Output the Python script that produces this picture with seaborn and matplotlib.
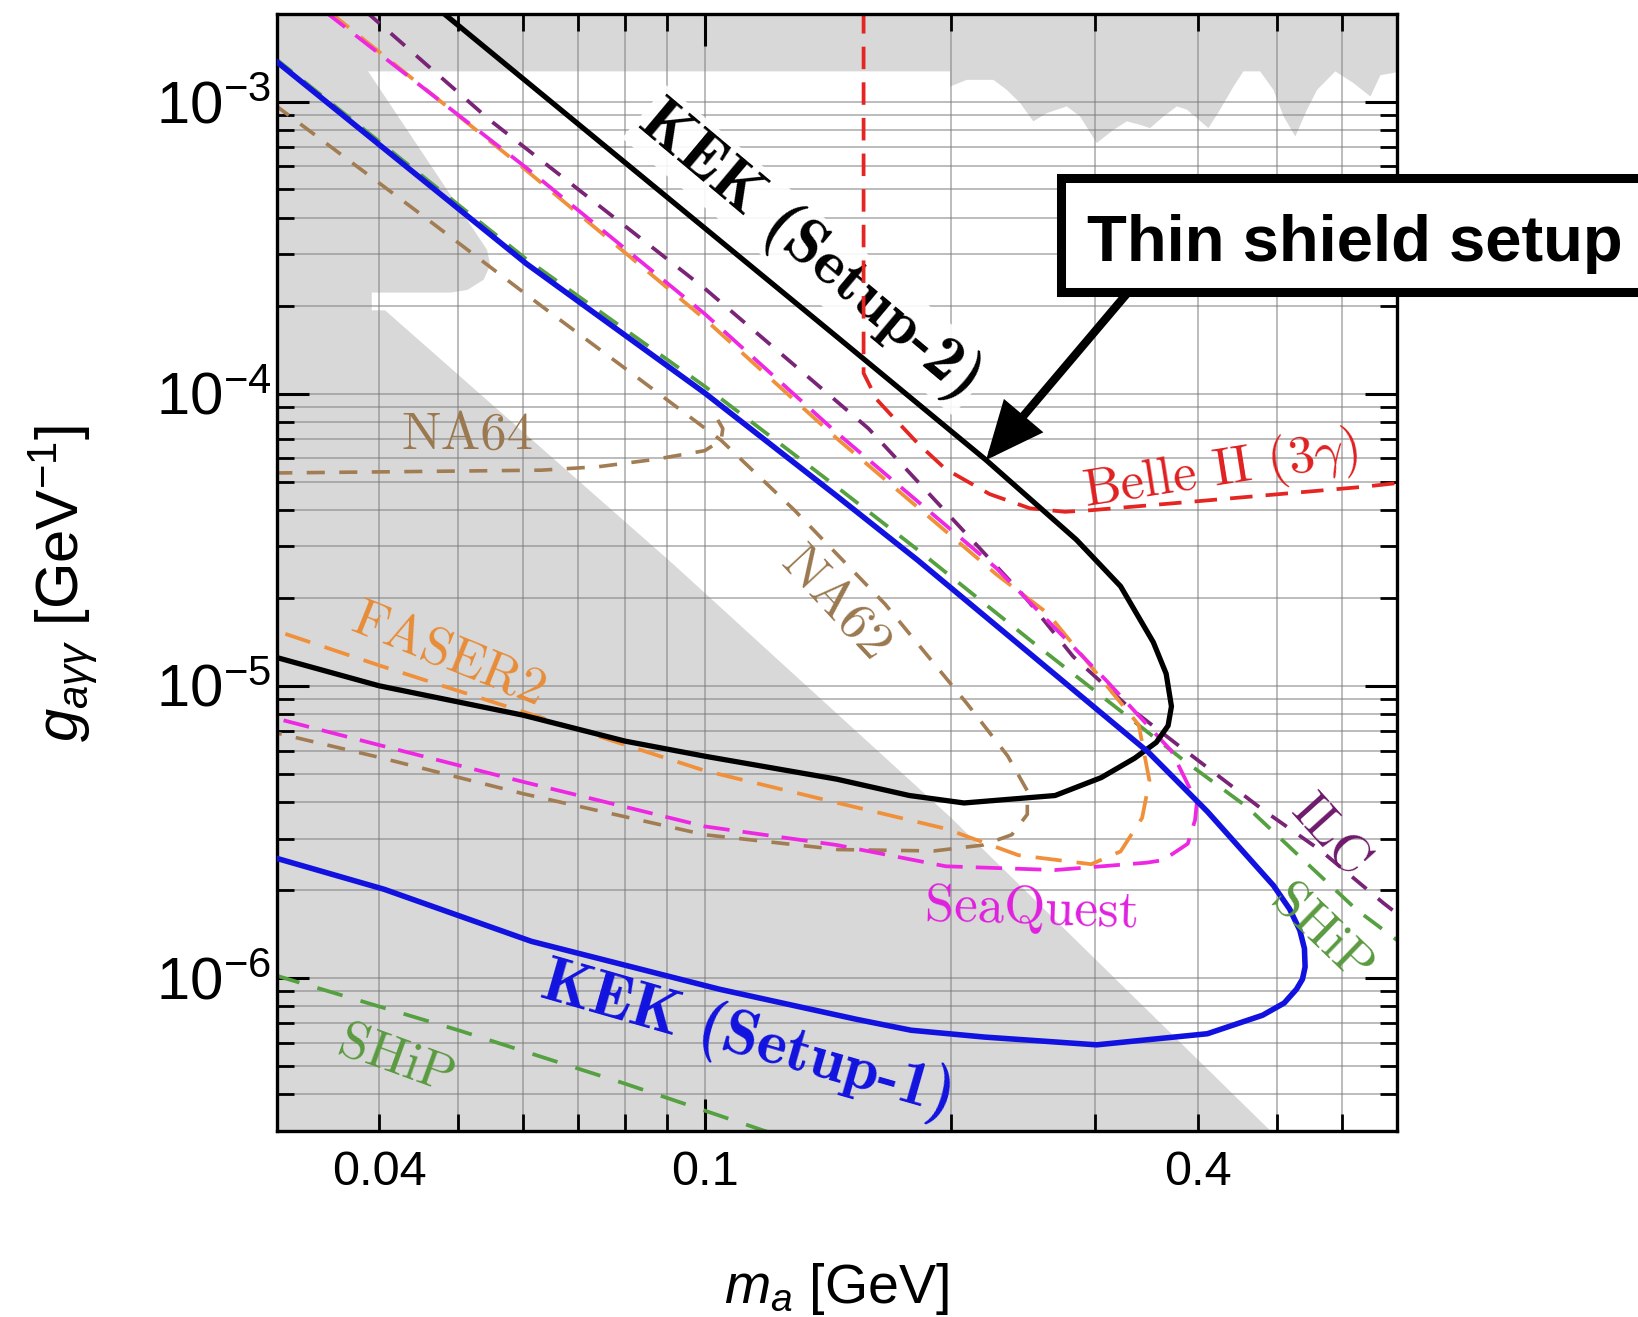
import matplotlib
matplotlib.use("Agg")
import matplotlib.pyplot as plt
import seaborn as sns
import pandas as pd
from matplotlib.ticker import FixedLocator, FuncFormatter, LogLocator, NullFormatter, LogFormatterMathtext
from matplotlib.patches import Rectangle, FancyArrowPatch

# ---------------- data (m_a in GeV, g in GeV^-1) ----------------
kek1_m = [0.0298, 0.0606, 0.100, 0.145, 0.182, 0.348, 0.411, 0.495, 0.518, 0.533, 0.540, 0.541, 0.537,
          0.528, 0.510, 0.480, 0.411, 0.301, 0.220, 0.1786, 0.1534, 0.1043, 0.0614, 0.0406, 0.0298]
kek1_g = [1.39e-3, 2.78e-4, 1.005e-4, 4.46e-5, 2.69e-5, 5.93e-6, 3.71e-6, 2.07e-6, 1.72e-6, 1.456e-6,
          1.26e-6, 1.09e-6, 9.9e-7, 9.14e-7, 8.2e-7, 7.45e-7, 6.44e-7, 5.90e-7, 6.27e-7, 6.62e-7, 7.21e-7,
          9.14e-7, 1.334e-6, 2.01e-6, 2.58e-6]

kek2_m = [0.0476, 0.1452, 0.2205, 0.2844, 0.322, 0.353, 0.366, 0.3715, 0.368, 0.356, 0.335, 0.305,
          0.2678, 0.2073, 0.1778, 0.1449, 0.100, 0.080, 0.060, 0.040, 0.0298]
kek2_g = [2.04e-3, 1.56e-4, 5.93e-5, 3.16e-5, 2.19e-5, 1.41e-5, 1.10e-5, 8.5e-6, 7.3e-6, 6.4e-6, 5.65e-6,
          4.85e-6, 4.21e-6, 3.97e-6, 4.21e-6, 4.79e-6, 5.74e-6, 6.46e-6, 7.93e-6, 1.0e-5, 1.256e-5]

belle_m = [0.1563, 0.1563, 0.1622, 0.169, 0.182, 0.1968, 0.2228, 0.2495, 0.2754, 0.2965, 0.4027, 0.6383, 0.705]
belle_g = [2.04e-3, 1.175e-4, 9.55e-5, 8.43e-5, 6.76e-5, 5.52e-5, 4.53e-5, 4.05e-5, 3.94e-5, 3.99e-5,
           4.29e-5, 4.80e-5, 4.95e-5]

seaquest_m = [0.0343, 0.0605, 0.100, 0.1445, 0.2273, 0.309, 0.3715, 0.399, 0.397, 0.389, 0.363, 0.3467,
              0.2678, 0.197, 0.1449, 0.100, 0.060, 0.040, 0.0298]
seaquest_g = [2.04e-3, 5.94e-4, 1.875e-4, 7.40e-5, 2.52e-5, 1.045e-5, 5.98e-6, 3.98e-6, 3.47e-6, 2.88e-6,
              2.53e-6, 2.48e-6, 2.34e-6, 2.41e-6, 2.85e-6, 3.30e-6, 4.69e-6, 6.27e-6, 7.76e-6]

faser_m = [0.0347, 0.0605, 0.100, 0.1445, 0.2273, 0.2623, 0.3388, 0.3492, 0.3421, 0.322, 0.2965, 0.2416,
           0.197, 0.1449, 0.100, 0.080, 0.060, 0.040, 0.0298]
faser_g = [2.04e-3, 5.82e-4, 1.80e-4, 7.08e-5, 2.40e-5, 1.77e-5, 7.35e-6, 4.73e-6, 3.53e-6, 2.71e-6,
           2.45e-6, 2.63e-6, 3.24e-6, 3.98e-6, 5.12e-6, 6.27e-6, 8.15e-6, 1.175e-5, 1.55e-5]

na62_m = [0.0298, 0.0447, 0.0631, 0.0832, 0.1047, 0.1288, 0.166, 0.2089, 0.2344, 0.2477, 0.2477, 0.2371,
          0.2188, 0.1905, 0.1455, 0.100, 0.060, 0.040, 0.0298]
na62_g = [9.77e-4, 4.17e-4, 2.0e-4, 1.122e-4, 6.92e-5, 3.98e-5, 1.905e-5, 8.71e-6, 5.75e-6, 4.37e-6,
          3.63e-6, 3.09e-6, 2.85e-6, 2.72e-6, 2.75e-6, 3.09e-6, 4.27e-6, 5.69e-6, 6.92e-6]

na64_m = [0.0298, 0.0631, 0.0741, 0.0871, 0.100, 0.1047, 0.1052, 0.1035]
na64_g = [5.35e-5, 5.47e-5, 5.62e-5, 5.96e-5, 6.38e-5, 6.92e-5, 7.59e-5, 8.22e-5]

ship_up_m = [0.0298, 0.0606, 0.100, 0.145, 0.182, 0.2512, 0.3841, 0.4594, 0.5338, 0.626, 0.708]
ship_up_g = [1.413e-3, 2.88e-4, 1.059e-4, 4.79e-5, 2.92e-5, 1.413e-5, 5.57e-6, 3.85e-6, 2.59e-6, 1.706e-6, 1.318e-6]

ship_lo_m = [0.0298, 0.0501, 0.0794, 0.1202]
ship_lo_g = [1.023e-6, 6.61e-7, 4.37e-7, 2.95e-7]

ilc_m = [0.0385, 0.0546, 0.100, 0.1585, 0.2466, 0.2818, 0.3285, 0.3808, 0.4811, 0.5647, 0.6744, 0.708]
ilc_g = [2.04e-3, 8.65e-4, 2.29e-4, 7.59e-5, 2.0e-5, 1.259e-5, 8.51e-6, 6.18e-6, 3.75e-6, 2.735e-6,
         1.803e-6, 1.622e-6]

# allowed (white) region; everything else is excluded (gray)
white_m = [0.0388, 0.1993, 0.1993, 0.2089, 0.2252, 0.2338, 0.2427, 0.2519, 0.2616, 0.2768, 0.2873, 0.3011,
           0.3157, 0.3277, 0.3402, 0.3499, 0.3633, 0.3772, 0.3880, 0.4122, 0.4260, 0.4423, 0.4549, 0.4768,
           0.4949, 0.5093, 0.5263, 0.5439, 0.5595, 0.5890, 0.6200, 0.6501, 0.6686, 0.71, 0.71, 0.4966,
           0.1995, 0.0912, 0.0407, 0.0392, 0.0392, 0.0490, 0.0513, 0.0537, 0.0547, 0.0542]
white_g = [1.268e-3, 1.268e-3, 1.125e-3, 1.186e-3, 1.186e-3, 1.096e-3, 9.89e-4, 8.55e-4, 9.12e-4, 9.62e-4,
           8.89e-4, 7.21e-4, 8.0e-4, 8.55e-4, 8.32e-4, 8.11e-4, 8.89e-4, 9.62e-4, 9.38e-4, 8.11e-4, 9.38e-4,
           1.125e-3, 1.268e-3, 1.268e-3, 1.096e-3, 8.89e-4, 7.59e-4, 9.38e-4, 1.096e-3, 1.268e-3, 1.156e-3,
           1.04e-3, 1.230e-3, 1.268e-3, 2.9e-7, 2.9e-7, 3.55e-6, 2.63e-5, 1.928e-4, 1.928e-4, 2.218e-4,
           2.218e-4, 2.265e-4, 2.455e-4, 2.754e-4, 3.11e-4]

x_major = [0.1]
x_minor = [0.04, 0.05, 0.06, 0.07, 0.08, 0.09, 0.2, 0.3, 0.4, 0.5, 0.6]
x_label_vals = [0.04, 0.1, 0.4]
x_label_txt = ["0.04", "0.1", "0.4"]

# ---------------- style ----------------
sns.set_theme(style="ticks")
plt.rcParams["font.family"] = ["Liberation Sans", "DejaVu Sans"]
plt.rcParams["mathtext.fontset"] = "custom"
plt.rcParams["mathtext.rm"] = "Liberation Sans"
plt.rcParams["mathtext.it"] = "Liberation Sans:italic"
plt.rcParams["mathtext.bf"] = "Liberation Sans:bold"

fig = plt.figure(figsize=(16.38, 13.17), dpi=100)
ax = fig.add_axes([0.1689, 0.1415, 0.6838, 0.8482])
ax.set_xscale("log")
ax.set_yscale("log")
ax.set_facecolor("#d8d8d8")
ax.fill(white_m, white_g, color="white", lw=0, zorder=0.2)


def curve(m, g, color, lw, dash=None, z=2.0):
    df = pd.DataFrame({"m": m, "g": g})
    kw = dict(color=color, linewidth=lw, zorder=z)
    if dash is not None:
        kw["linestyle"] = (0, dash)
    sns.lineplot(data=df, x="m", y="g", sort=False, estimator=None, errorbar=None,
                 ax=ax, legend=False, **kw)


c_brown = "#a27c52"
c_orange = "#f0903a"
c_mag = "#ee28e2"
c_green = "#55a040"
c_purple = "#7a2478"
c_red = "#e52521"
c_blue = "#1212e0"

curve(na64_m, na64_g, c_brown, 2.6, (5, 4))
curve(na62_m, na62_g, c_brown, 2.6, (5, 4))
curve(ship_lo_m, ship_lo_g, c_green, 2.7, (7, 5))
curve(ship_up_m, ship_up_g, c_green, 2.7, (6, 4))
curve(ilc_m, ilc_g, c_purple, 2.7, (5, 4))
curve(faser_m, faser_g, c_orange, 2.7, (7, 4))
curve(seaquest_m, seaquest_g, c_mag, 2.7, (7, 3.5))
curve(belle_m, belle_g, c_red, 2.7, (6, 3.5))
curve(kek2_m, kek2_g, "black", 3.8, None, 3)
curve(kek1_m, kek1_g, c_blue, 4.0, None, 3)

ax.set_xlim(0.03, 0.70)
ax.set_ylim(3e-7, 2e-3)


def xfmt(v, pos):
    for val, txt in zip(x_label_vals, x_label_txt):
        if abs(v - val) / val < 1e-6:
            return txt
    return ""


ax.xaxis.set_major_locator(FixedLocator(x_major))
ax.xaxis.set_minor_locator(FixedLocator(x_minor))
ax.xaxis.set_major_formatter(FuncFormatter(xfmt))
ax.xaxis.set_minor_formatter(FuncFormatter(xfmt))
ax.yaxis.set_major_locator(LogLocator(base=10, numticks=20))
ax.yaxis.set_minor_locator(LogLocator(base=10, subs=range(2, 10), numticks=60))
ax.yaxis.set_major_formatter(LogFormatterMathtext())
ax.yaxis.set_minor_formatter(NullFormatter())

for s in ax.spines.values():
    s.set_linewidth(2.4)
    s.set_color("black")
ax.tick_params(which="major", direction="in", length=23, width=2.2, top=True, right=True,
               color="black", labelcolor="black")
ax.tick_params(which="minor", direction="in", length=12, width=2.0, top=True, right=True,
               color="black", labelcolor="black")
ax.tick_params(axis="x", which="both", pad=14, labelsize=35)
ax.tick_params(axis="y", which="both", pad=4, labelsize=43)
ax.grid(True, which="both", color="#7a7a7a", alpha=0.5, linewidth=1.4)

ax.set_xlabel(r"$m_a$ [GeV]", fontsize=40, color="black")
ax.xaxis.set_label_coords(0.5, -0.117)
ax.set_ylabel(r"$g_{a\gamma\gamma}$ [GeV$^{-1}$]", fontsize=43, color="black")
ax.yaxis.set_label_coords(-0.158, 0.49)

# ---------------- labels ----------------
ax.text(0.1343, 3.09e-4, "KEK (Setup-2)", rotation=-40, rotation_mode="anchor", ha="center",
        va="center", fontsize=46, family="cmb10", color="black", zorder=1.8,
        bbox=dict(facecolor="white", edgecolor="none", alpha=0.9, pad=2))
ax.text(0.1129, 6.11e-7, "KEK (Setup-1)", rotation=-16, rotation_mode="anchor", ha="center",
        va="center", fontsize=46, family="cmb10", color=c_blue, zorder=4)
ax.text(0.0513, 7.21e-5, "NA64", rotation=0, ha="center", va="center", fontsize=38,
        family="cmr10", color="#9a7850", zorder=4)
ax.text(0.1445, 1.905e-5, "NA62", rotation=-47, rotation_mode="anchor", ha="center", va="center",
        fontsize=39, family="cmr10", color="#9a7850", zorder=4)
ax.text(0.0486, 1.265e-5, "FASER2", rotation=-22, rotation_mode="anchor", ha="center", va="center",
        fontsize=38, family="cmr10", color="#e88c38", zorder=4)
ax.text(0.2512, 1.714e-6, "SeaQuest", rotation=-2, rotation_mode="anchor", ha="center", va="center",
        fontsize=38, family="cmr10", color="#e020de", zorder=4)
ax.text(0.5794, 3.05e-6, "ILC", rotation=-48, rotation_mode="anchor", ha="center", va="center",
        fontsize=38, family="cmr10", color="#6e1a6c", zorder=4)
ax.text(0.5662, 1.40e-6, "SHiP", rotation=-44, rotation_mode="anchor", ha="center", va="center",
        fontsize=38, family="cmr10", color="#5a9a40", zorder=4)
ax.text(0.0420, 5.21e-7, "SHiP", rotation=-20, rotation_mode="anchor", ha="center", va="center",
        fontsize=38, family="cmr10", color="#5a9a40", zorder=4)
ax.text(0.427, 5.4e-5, r"Belle II (3$\gamma$)", rotation=9, rotation_mode="anchor", ha="center",
        va="center", fontsize=38, family="cmr10", math_fontfamily="cm", color="#e02020", zorder=4)

# ---------------- callout ----------------
arrow = FancyArrowPatch(posA=(0.690, 0.780), posB=(0.6020, 0.6507), transform=fig.transFigure,
                        arrowstyle="-|>,head_length=0.45,head_width=0.2", mutation_scale=70,
                        linewidth=6, color="black", shrinkA=0, shrinkB=0, zorder=4.5,
                        joinstyle="miter")
fig.add_artist(arrow)
box = Rectangle((0.6477, 0.7782), 0.40, 0.0866, transform=fig.transFigure, facecolor="white",
                edgecolor="black", linewidth=6.5, zorder=5)
fig.add_artist(box)
fig.text(0.6635, 0.8020, "Thin shield setup", fontsize=47, fontweight="bold", ha="left",
         va="baseline", color="black", zorder=6)

fig.savefig("out.png", dpi=100)
